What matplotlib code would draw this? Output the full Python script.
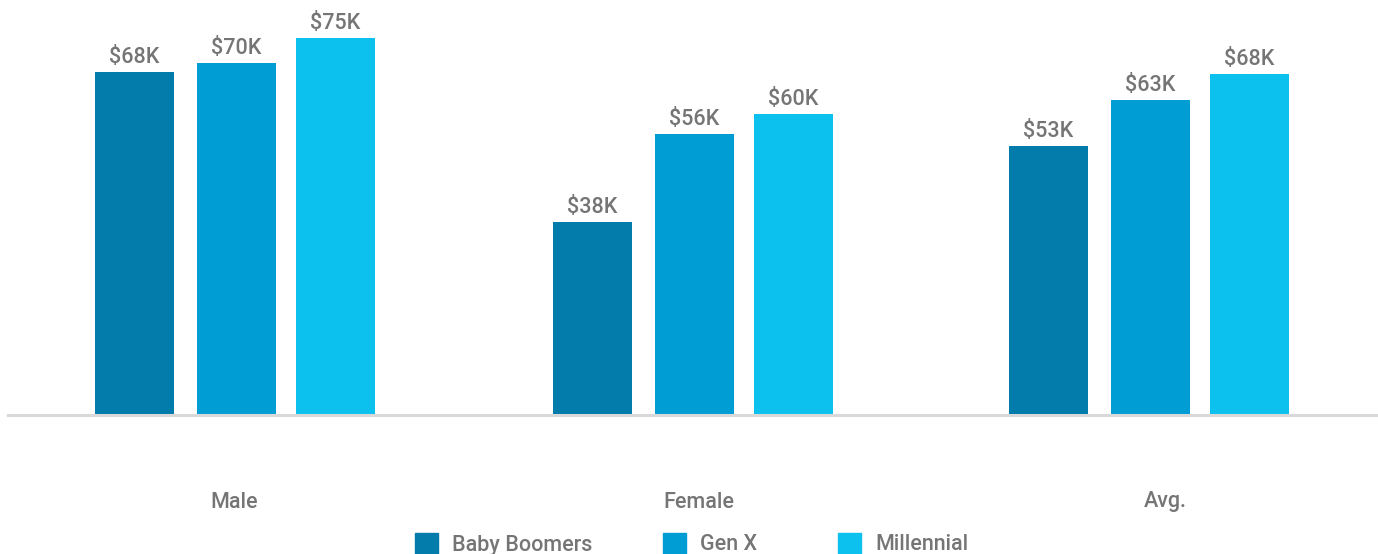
import matplotlib.pyplot as plt
from matplotlib.patches import Rectangle

plt.rcParams['font.family'] = ['Roboto', 'DejaVu Sans']

# datos (en miles de dolares)
categories = ['Male', 'Female', 'Avg.']
series = ['Baby Boomers', 'Gen X', 'Millennial']
baby_boomers = [68.2, 38.3, 53.4]
gen_x = [70.0, 55.9, 62.6]
millennial = [75.0, 59.9, 67.8]
values = [baby_boomers, gen_x, millennial]
colors = ['#037bab', '#009dd5', '#0dc1ee']
text_color = '#757575'
fw = 'medium'
fs = 15.5

W, H = 1378, 554
fig = plt.figure(figsize=(W / 100, H / 100), dpi=100)
# eje en pixeles horizontales, base en y=414
base_y = 414
ax = fig.add_axes([0, (H - base_y) / H, 1, base_y / H])
ax.set_xlim(0, W)
ax.set_ylim(0, base_y / 5.013)
ax.axis('off')

group_centers = [235.5, 693.5, 1149.5]
offsets = [-101, 1, 100]
bar_w = 79

for s, vals in enumerate(values):
    xs = [c + offsets[s] for c in group_centers]
    ax.bar(xs, vals, width=bar_w, color=colors[s], zorder=2)
    for x, v in zip(xs, vals):
        ax.annotate(f"${v:.0f}K", (x, v), xytext=(0, 3), textcoords='offset points',
                    ha='center', va='bottom', fontsize=fs, fontweight=fw, color=text_color)

# linea base
fig.add_artist(plt.Line2D([8 / W, 1], [(H - 415) / H] * 2, color='#d9d9d9', lw=2.2))

# etiquetas de categoria
label_x = [234, 699, 1165]
for lx, cat in zip(label_x, categories):
    fig.text(lx / W, (H - 502) / H, cat, ha='center', va='center',
             fontsize=fs, fontweight=fw, color=text_color)

# leyenda manual
sq_x = [415, 663, 838]
for sx, name, col in zip(sq_x, series, colors):
    fig.add_artist(Rectangle((sx / W, (H - 555) / H), 23 / W, 22 / H,
                             transform=fig.transFigure, color=col))
    fig.text((sx + 37) / W, (H - 545) / H, name, ha='left', va='center',
             fontsize=fs, fontweight=fw, color=text_color)

fig.savefig('out.png', dpi=100)
